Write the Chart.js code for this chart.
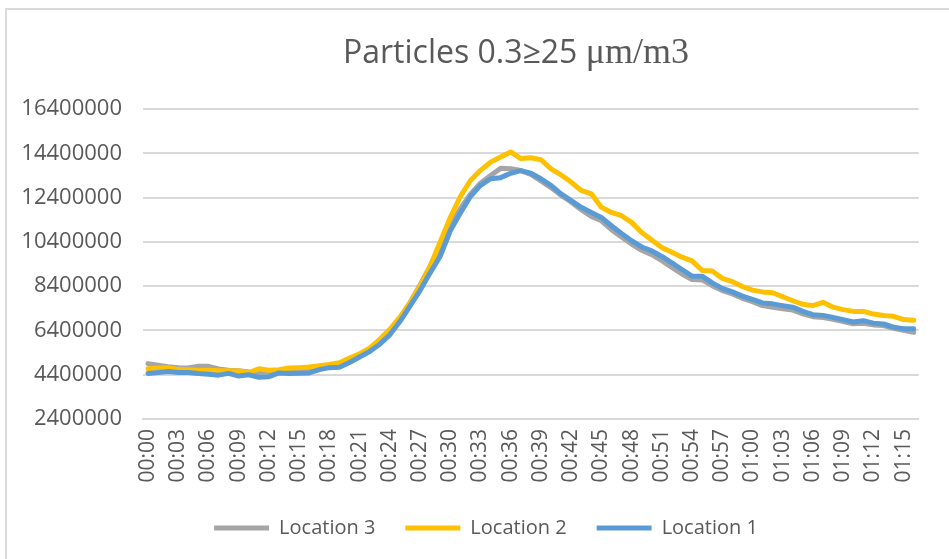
<!DOCTYPE html>
<html>
<head>
<meta charset="utf-8">
<script src="https://cdn.jsdelivr.net/npm/chart.js@4/dist/chart.umd.min.js"></script>
<style>
  html, body { margin: 0; padding: 0; background: #fff; }
  #wrap { position: relative; width: 949px; height: 559px; overflow: hidden; }
  #frame {
    position: absolute; left: 5px; top: 8px; width: 960px; height: 570px;
    border-left: 2px solid #dadada; border-top: 2px solid #dadada;
  }
  canvas { position: absolute; left: 0; top: 0; }
  #title {
    position: absolute; left: 216px; width: 600px; top: 35px;
    text-align: center; white-space: nowrap; color: #595959;
    font-family: 'Open Sans', sans-serif; font-size: 32px; line-height: 32px;
  }
  #title .unit { font-family: 'Liberation Serif', serif; font-size: 36px; }
</style>
</head>
<body>
<div id="wrap">
  <div id="frame"></div>
  <canvas id="chart" width="949" height="559"></canvas>
  <div id="title">Particles 0.3≥25 <span class="unit">μm/m3</span></div>
</div>
<script>
// one reading per minute, 00:00 to 01:16
const times = [
  "00:00", "00:01", "00:02", "00:03", "00:04", "00:05", "00:06", "00:07", "00:08", "00:09",
  "00:10", "00:11", "00:12", "00:13", "00:14", "00:15", "00:16", "00:17", "00:18", "00:19",
  "00:20", "00:21", "00:22", "00:23", "00:24", "00:25", "00:26", "00:27", "00:28", "00:29",
  "00:30", "00:31", "00:32", "00:33", "00:34", "00:35", "00:36", "00:37", "00:38", "00:39",
  "00:40", "00:41", "00:42", "00:43", "00:44", "00:45", "00:46", "00:47", "00:48", "00:49",
  "00:50", "00:51", "00:52", "00:53", "00:54", "00:55", "00:56", "00:57", "00:58", "00:59",
  "01:00", "01:01", "01:02", "01:03", "01:04", "01:05", "01:06", "01:07", "01:08", "01:09",
  "01:10", "01:11", "01:12", "01:13", "01:14", "01:15", "01:16",
];

// particle counts, in millions per m3
const location1 = [
  4.46, 4.50, 4.54, 4.50, 4.50, 4.45, 4.42, 4.38, 4.46, 4.34,
  4.40, 4.28, 4.31, 4.48, 4.46, 4.47, 4.48, 4.63, 4.72, 4.74,
  4.95, 5.20, 5.45, 5.78, 6.20, 6.80, 7.50, 8.20, 9.00, 9.75,
  10.90, 11.70, 12.45, 12.95, 13.25, 13.30, 13.50, 13.62, 13.50, 13.25,
  12.95, 12.57, 12.26, 11.96, 11.73, 11.50, 11.13, 10.78, 10.45, 10.17,
  9.99, 9.74, 9.45, 9.15, 8.85, 8.85, 8.55, 8.30, 8.14, 7.95,
  7.80, 7.64, 7.60, 7.52, 7.45, 7.26, 7.11, 7.08, 6.99, 6.89,
  6.78, 6.84, 6.73, 6.69, 6.55, 6.48, 6.48,
];

const location2 = [
  4.67, 4.70, 4.72, 4.63, 4.62, 4.60, 4.60, 4.58, 4.58, 4.57,
  4.50, 4.67, 4.60, 4.63, 4.70, 4.72, 4.75, 4.80, 4.86, 4.94,
  5.15, 5.35, 5.60, 6.00, 6.45, 7.00, 7.65, 8.40, 9.30, 10.40,
  11.50, 12.45, 13.17, 13.63, 14.00, 14.23, 14.46, 14.16, 14.20, 14.11,
  13.70, 13.42, 13.10, 12.72, 12.57, 11.96, 11.73, 11.58, 11.28, 10.82,
  10.48, 10.14, 9.93, 9.71, 9.54, 9.11, 9.08, 8.75, 8.60, 8.38,
  8.22, 8.14, 8.10, 7.92, 7.74, 7.58, 7.52, 7.67, 7.45, 7.34,
  7.26, 7.26, 7.14, 7.07, 7.04, 6.89, 6.86,
];

const location3 = [
  4.90, 4.83, 4.76, 4.72, 4.70, 4.78, 4.78, 4.66, 4.60, 4.58,
  4.52, 4.50, 4.52, 4.55, 4.58, 4.62, 4.66, 4.72, 4.78, 4.85,
  5.05, 5.28, 5.55, 5.92, 6.35, 6.95, 7.65, 8.45, 9.30, 10.20,
  11.10, 11.90, 12.55, 13.05, 13.40, 13.72, 13.70, 13.62, 13.45, 13.15,
  12.85, 12.50, 12.20, 11.85, 11.55, 11.35, 10.95, 10.62, 10.30, 10.02,
  9.82, 9.55, 9.25, 8.95, 8.70, 8.68, 8.42, 8.20, 8.05, 7.85,
  7.70, 7.52, 7.45, 7.38, 7.32, 7.15, 7.02, 6.98, 6.90, 6.80,
  6.70, 6.72, 6.65, 6.62, 6.50, 6.40, 6.31,
];

const yMin = 2400000;
const yMax = 16400000;
const yStep = 2000000;

const textColor = "#595959";
const gridColor = "#d9d9d9";
const font = "'Open Sans', 'Liberation Sans', sans-serif";

const toCount = (arr) => arr.map((v) => Math.round(v * 1000000));

function series(label, values, color) {
  return {
    label,
    data: toCount(values),
    borderColor: color,
    backgroundColor: color,
    borderWidth: 5,
    borderCapStyle: "round",
    borderJoinStyle: "round",
    pointRadius: 0,
    tension: 0,
  };
}

// nudge the legend row a little to the right of the canvas centre
const legendOffset = {
  id: "legendOffset",
  afterLayout(chart) {
    chart.legend.left += 11;
    chart.legend.right += 11;
  },
};

// first dataset is drawn on top, legend is shown reversed
new Chart(document.querySelector("#chart"), {
  type: "line",
  data: {
    labels: times,
    datasets: [
      series("Location 1", location1, "#5b9bd5"),
      series("Location 2", location2, "#ffc000"),
      series("Location 3", location3, "#a5a5a5"),
    ],
  },
  options: {
    responsive: false,
    animation: false,
    layout: { padding: { left: 18, right: 17, top: 109, bottom: 11 } },
    plugins: {
      title: { display: false },
      legend: {
        position: "bottom",
        reverse: true,
        labels: {
          usePointStyle: true,
          pointStyle: "line",
          pointStyleWidth: 55,
          padding: 30,
          color: textColor,
          font: { family: font, size: 20 },
        },
      },
      tooltip: { enabled: false },
    },
    scales: {
      x: {
        offset: true,
        grid: { display: false, drawTicks: false },
        border: { display: true, color: gridColor, width: 2 },
        ticks: {
          autoSkip: false,
          minRotation: 90,
          maxRotation: 90,
          padding: 10,
          color: textColor,
          font: { family: font, size: 21 },
          callback: (value, i) => (i % 3 === 0 ? times[i] : ""),
        },
        afterFit: (scale) => { scale.height = 69; },
      },
      y: {
        min: yMin,
        max: yMax,
        grid: { color: gridColor, lineWidth: 2, drawTicks: false },
        border: { display: false },
        ticks: {
          stepSize: yStep,
          padding: 21,
          color: textColor,
          font: { family: font, size: 22 },
          callback: (value) => String(value),
        },
        afterFit: (scale) => { scale.width = 125; },
      },
    },
  },
  plugins: [legendOffset],
});
</script>
</body>
</html>
